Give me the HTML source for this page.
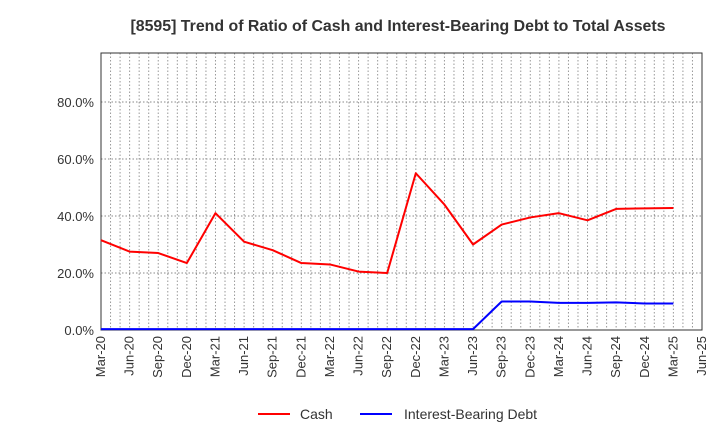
<!DOCTYPE html>
<html><head><meta charset="utf-8"><style>
body{margin:0;background:#fff;font-family:"Liberation Sans",sans-serif}
</style></head><body>
<svg width="720" height="440" xmlns="http://www.w3.org/2000/svg">
<text x="398" y="31" text-anchor="middle" font-size="15.9" font-weight="bold" fill="#333">[8595]  Trend of Ratio of Cash and Interest-Bearing Debt to Total Assets</text>
<g id="grid"></g><g id="axes"></g><g id="series"></g>
<g>
<line x1="258" y1="414" x2="290" y2="414" stroke="#f00" stroke-width="2"/>
<text x="300" y="419" font-size="14" fill="#333">Cash</text>
<line x1="360" y1="414" x2="392" y2="414" stroke="#00f" stroke-width="2"/>
<text x="404" y="419" font-size="14" fill="#333">Interest-Bearing Debt</text>
</g>
</svg>
<script>
const categories=["Mar-20","Jun-20","Sep-20","Dec-20","Mar-21","Jun-21","Sep-21","Dec-21","Mar-22","Jun-22","Sep-22","Dec-22","Mar-23","Jun-23","Sep-23","Dec-23","Mar-24","Jun-24","Sep-24","Dec-24","Mar-25","Jun-25"];
const cashValues=[31.5,27.5,27,23.5,41,31,28,23.5,23,20.5,20,55,44,30,37,39.5,41,38.5,42.5,42.7,42.8];
const debtValues=[0.3,0.3,0.3,0.3,0.3,0.3,0.3,0.3,0.3,0.3,0.3,0.3,0.3,0.3,10,10,9.5,9.5,9.7,9.3,9.3];
const yTicks=[0,20,40,60,80];
const yTickLabels=["0.0%","20.0%","40.0%","60.0%","80.0%"];
const yMax=97.2;
const L=101,R=702,T=53,B=330,NS="http://www.w3.org/2000/svg";
const step=(R-L)/(categories.length-1);
const x=i=>L+i*step, y=v=>B-(v/yMax)*(B-T);
function mk(tag,at,parent){const e=document.createElementNS(NS,tag);for(const k in at)e.setAttribute(k,at[k]);document.getElementById(parent).appendChild(e);return e;}
for(let m=1;m<(categories.length-1)*3;m++){const xx=L+m*step/3;
const g=mk("line",{x1:xx,x2:xx,y1:T,y2:B,stroke:"#999","stroke-dasharray":"1.5,2"},"grid");

}
yTicks.forEach((t,i)=>{const yy=y(t);
if(t>0){const g=mk("line",{x1:L,x2:R,y1:yy,y2:yy,stroke:"#888","stroke-dasharray":"1.5,2"},"grid");

}
const tx=mk("text",{x:L-7,y:yy+5,"text-anchor":"end","font-size":"13",fill:"#333"},"axes");tx.textContent=yTickLabels[i];

});
const fr=mk("rect",{x:L,y:T,width:R-L,height:B-T,fill:"none",stroke:"#333"},"axes");


categories.forEach((c,i)=>{const xx=x(i);
const t=mk("text",{x:xx+4,y:B+6,"text-anchor":"end","font-size":"13",fill:"#333",transform:`rotate(-90 ${xx+4} ${B+6})`},"axes");t.textContent=c;

});
function line(vals,color,name){const p=mk("polyline",{points:vals.map((v,i)=>x(i)+","+y(v)).join(" "),fill:"none",stroke:color,"stroke-width":2,"stroke-linejoin":"round"},"series");

}
line(debtValues,"#00f","debt-line");
line(cashValues,"#f00","cash-line");
</script>
</body></html>
